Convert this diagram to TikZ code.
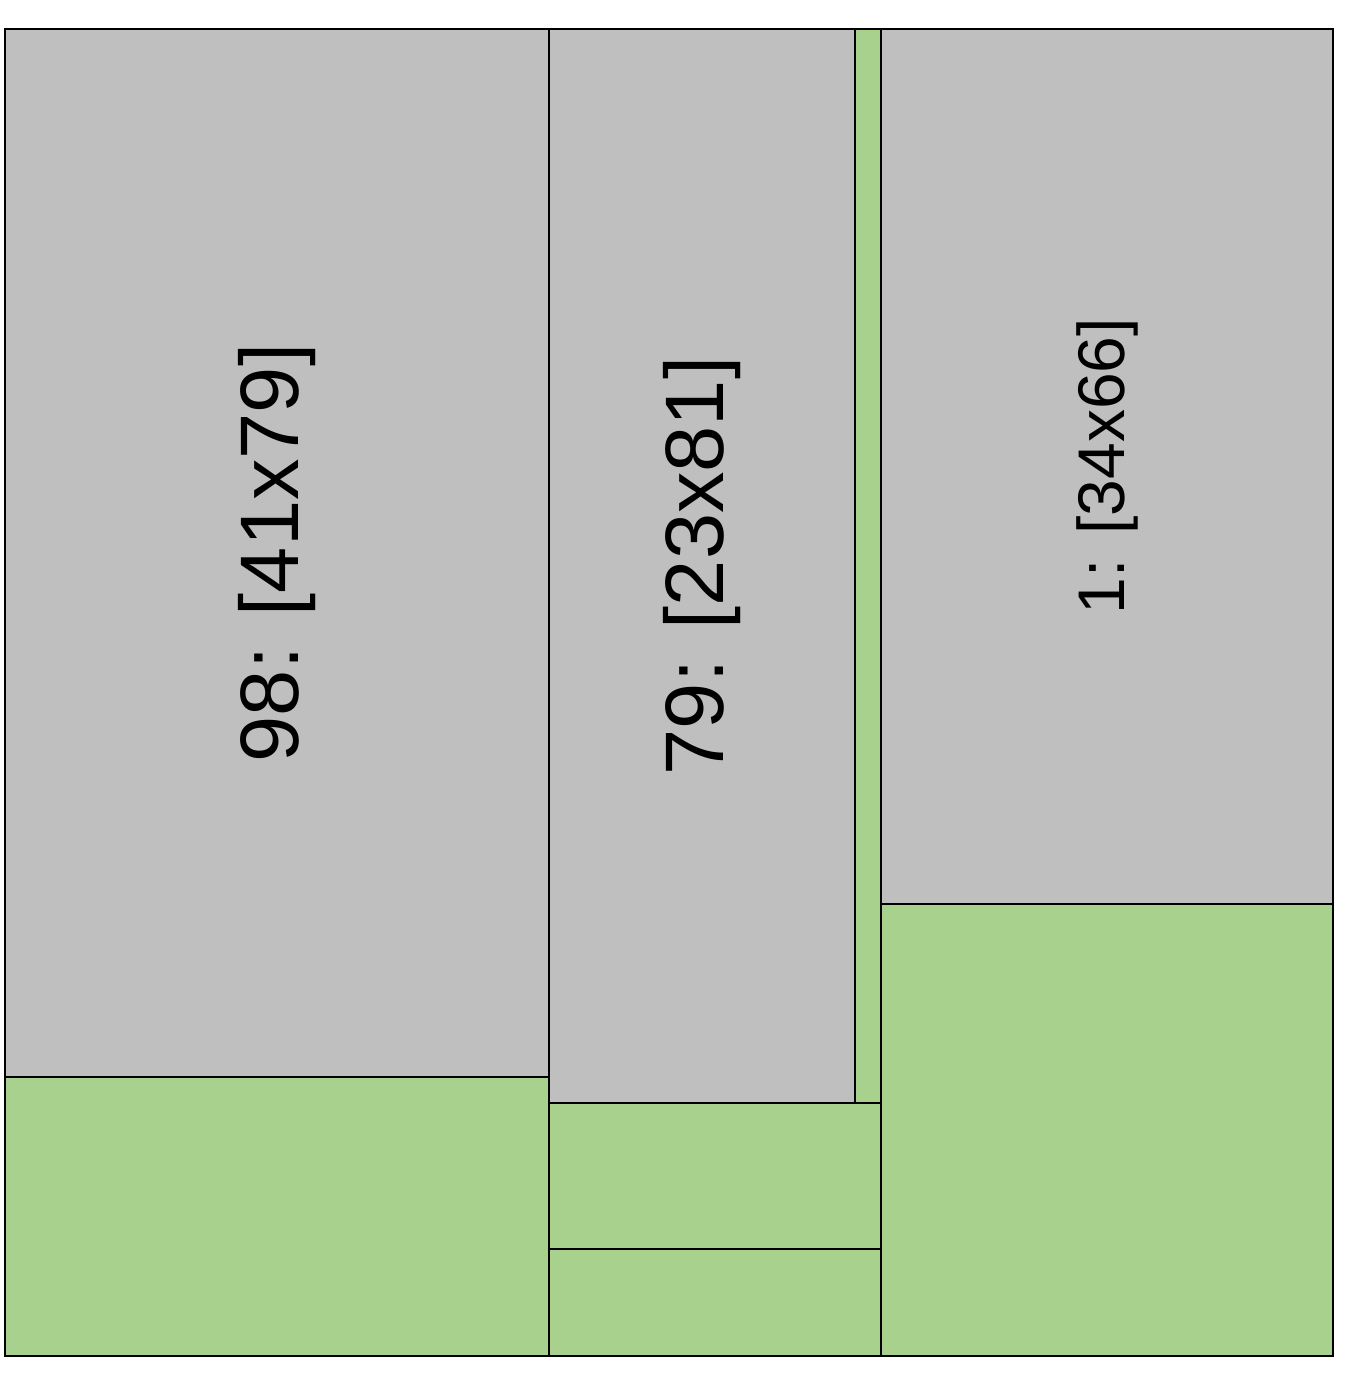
\documentclass[tikz,border=0pt]{standalone}
\usepackage{fontspec}
\setmainfont{Liberation Sans}
\definecolor{boxgray}{HTML}{BFBFBF}
\definecolor{boxgreen}{HTML}{A9D18E}
\begin{document}
\begin{tikzpicture}[x=1pt,y=-1pt,
  item/.style={draw=black,line width=2pt,fill=boxgray},
  free/.style={draw=black,line width=2pt,fill=boxgreen},
  lbl/.style={rotate=90,inner sep=0pt,font=\fontsize{83}{83}\selectfont},
  lblsmall/.style={rotate=90,inner sep=0pt,font=\fontsize{66}{66}\selectfont}]
\useasboundingbox (0,0) rectangle (1352,1376);
% column 1
\draw[item] (5,29) rectangle (549,1077);
\draw[free] (5,1077) rectangle (549,1356);
% column 2
\draw[item] (549,29) rectangle (855,1103);
\draw[free] (855,29) rectangle (881,1103);
\draw[free] (549,1103) rectangle (881,1249);
\draw[free] (549,1249) rectangle (881,1356);
% column 3
\draw[item] (881,29) rectangle (1333,904);
\draw[free] (881,904) rectangle (1333,1356);
% outer frame
\draw[line width=2pt] (5,29) rectangle (1333,1356);
\node[lbl] (a) at (277,553) {98: [41x79]};
\node[lbl] (b) at (702,566) {79: [23x81]};
\node[lblsmall] (c) at (1107,466) {1: [34x66]};
\end{tikzpicture}
\end{document}
